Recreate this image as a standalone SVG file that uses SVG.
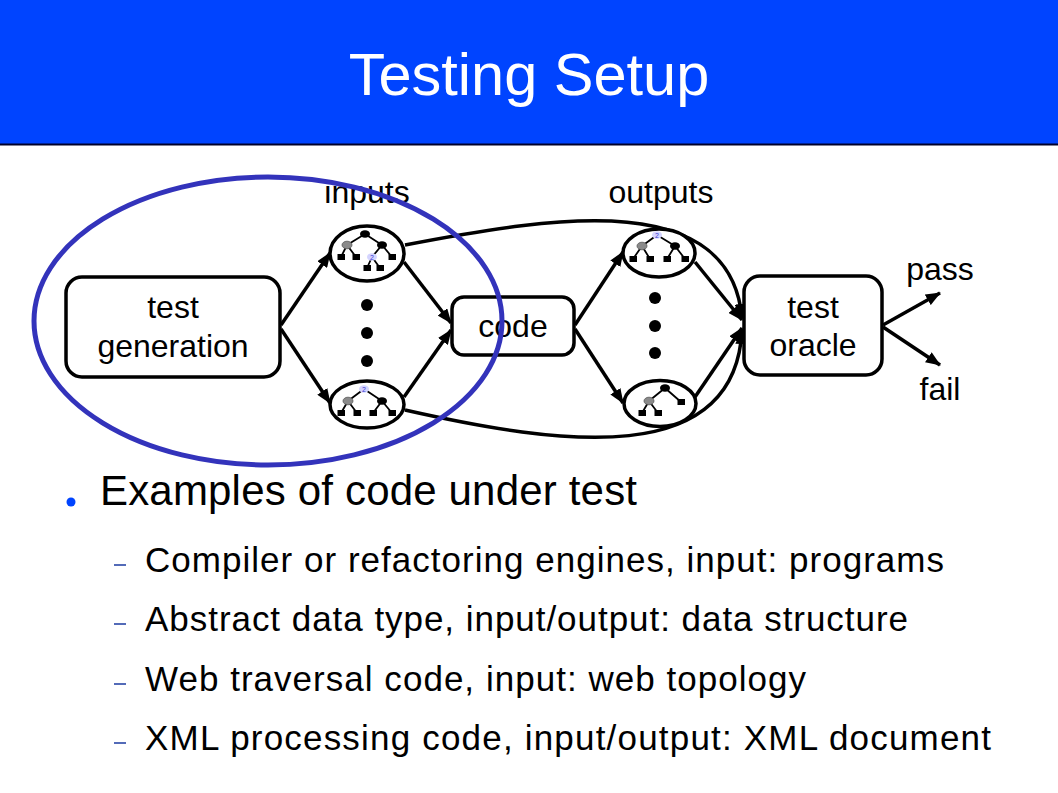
<svg xmlns="http://www.w3.org/2000/svg" width="1058" height="793" viewBox="0 0 1058 793">
<defs>
<style>
text{font-family:"Liberation Sans",Arial,sans-serif;fill:#000}
.lbl{font-size:32px;text-anchor:middle}
.box{fill:#fff;stroke:#000;stroke-width:3.5}
.oval{fill:#fff;stroke:#000;stroke-width:3.5}
.con{fill:none;stroke:#000;stroke-width:3.5;marker-end:url(#ah)}
.te{stroke:#000;stroke-width:1.8;fill:none}
.nb{fill:#000}
.ng{fill:#8a8a8a;stroke:#555;stroke-width:0.8}
.nl{fill:#d4d4ff}
.n2{font-size:7px;text-anchor:middle;fill:#3b3bd0}
.lf{fill:#000}
.dot{fill:#000}
.sub{font-size:35px}
.dash{stroke:#1a3aa0;stroke-width:1.5}
</style>
<marker id="ah" markerUnits="userSpaceOnUse" markerWidth="15" markerHeight="12" refX="14" refY="6" orient="auto">
<path d="M0,0 L15,6 L0,12 z" fill="#000"/>
</marker>
</defs>
<rect width="1058" height="793" fill="#fff"/>
<g id="title">
<rect x="0" y="0" width="1058" height="144" fill="#0044ff"/>
<line x1="0" y1="144.5" x2="1058" y2="144.5" stroke="#00002a" stroke-width="2"/>
<text x="529" y="95" font-size="59.5" text-anchor="middle" style="fill:#fff">Testing Setup</text>
</g>
<g id="connectors">
<line class="con" x1="281" y1="325" x2="330" y2="253"/>
<line class="con" x1="281" y1="329" x2="330" y2="403"/>
<line class="con" x1="404" y1="262" x2="451" y2="323"/>
<line class="con" x1="404" y1="397" x2="451" y2="330"/>
<line class="con" x1="575" y1="325" x2="623" y2="252"/>
<line class="con" x1="575" y1="329" x2="623" y2="403"/>
<line class="con" x1="695" y1="262" x2="742" y2="320"/>
<line class="con" x1="695" y1="397" x2="742" y2="328"/>
<path class="con" d="M405,245 C560,215 730,190 742,318"/>
<path class="con" d="M405,410 C560,445 735,470 742,330"/>
<line class="con" x1="883" y1="325" x2="940" y2="293"/>
<line class="con" x1="883" y1="327" x2="940" y2="365"/>
</g>
<g id="test-generation">
<rect class="box" x="66" y="277" width="214" height="100" rx="16"/>
<text class="lbl" x="173" y="318">test</text>
<text class="lbl" x="173" y="357">generation</text>
</g>
<g id="inputs-label"><text class="lbl" x="367" y="203">inputs</text></g>
<g id="input-1">
<ellipse class="oval" cx="367" cy="253.5" rx="37" ry="27.5"/>
<path class="te" d="M365,234 L347,245 M365,234 L382,245 M347,245 L341,257 M347,245 L356,257 M382,245 L372,257 M382,245 L392,257 M372,257 L367,268 M372,257 L380,268"/>
<ellipse class="nb" cx="365" cy="234" rx="5" ry="3.8"/>
<ellipse class="ng" cx="347" cy="245" rx="5" ry="3.8"/>
<ellipse class="nb" cx="382" cy="245" rx="5" ry="3.8"/>
<ellipse class="nl" cx="372" cy="257" rx="5" ry="3.8"/>
<text class="n2" x="372" y="259.5">2</text>
<rect class="lf" x="337.5" y="254" width="7.5" height="6"/>
<rect class="lf" x="352.5" y="254" width="7.5" height="6"/>
<rect class="lf" x="388.5" y="254" width="7.5" height="6"/>
<rect class="lf" x="363.5" y="265" width="7.5" height="6"/>
<rect class="lf" x="376.5" y="265" width="7.5" height="6"/>
</g>
<g id="input-dots">
<circle class="dot" cx="367" cy="305" r="6"/>
<circle class="dot" cx="367" cy="333" r="6"/>
<circle class="dot" cx="367" cy="361" r="6"/>
</g>
<g id="input-n">
<ellipse class="oval" cx="367" cy="404.5" rx="37" ry="23.5"/>
<path class="te" d="M364,389 L348,401 M364,389 L382,401 M348,401 L341,413 M348,401 L357,413 M382,401 L373,413 M382,401 L392,413"/>
<ellipse class="nl" cx="364" cy="389" rx="5" ry="3.8"/>
<text class="n2" x="364" y="391.5">2</text>
<ellipse class="ng" cx="348" cy="401" rx="5" ry="3.8"/>
<ellipse class="nb" cx="382" cy="401" rx="5" ry="3.8"/>
<rect class="lf" x="337.5" y="410" width="7.5" height="6"/>
<rect class="lf" x="353.5" y="410" width="7.5" height="6"/>
<rect class="lf" x="369.5" y="410" width="7.5" height="6"/>
<rect class="lf" x="388.5" y="410" width="7.5" height="6"/>
</g>
<g id="code">
<rect class="box" x="452" y="297" width="122" height="58" rx="12"/>
<text class="lbl" x="513" y="337">code</text>
</g>
<g id="outputs-label"><text class="lbl" x="661" y="203">outputs</text></g>
<g id="output-1">
<ellipse class="oval" cx="659" cy="253" rx="36" ry="24"/>
<path class="te" d="M657,235 L642,246 M657,235 L675,246 M642,246 L633,259 M642,246 L650,259 M675,246 L667,259 M675,246 L685,259"/>
<ellipse class="nl" cx="657" cy="235" rx="5" ry="3.8"/>
<text class="n2" x="657" y="237.5">2</text>
<ellipse class="ng" cx="642" cy="246" rx="5" ry="3.8"/>
<ellipse class="nb" cx="675" cy="246" rx="5" ry="3.8"/>
<rect class="lf" x="629.5" y="256" width="7.5" height="6"/>
<rect class="lf" x="646.5" y="256" width="7.5" height="6"/>
<rect class="lf" x="663.5" y="256" width="7.5" height="6"/>
<rect class="lf" x="681.5" y="256" width="7.5" height="6"/>
</g>
<g id="output-dots">
<circle class="dot" cx="655" cy="298" r="6"/>
<circle class="dot" cx="655" cy="326" r="6"/>
<circle class="dot" cx="655" cy="353" r="6"/>
</g>
<g id="output-n">
<ellipse class="oval" cx="660" cy="403.5" rx="36" ry="23"/>
<path class="te" d="M665,388 L649,401 M665,388 L681,402 M649,401 L642,413 M649,401 L658,413"/>
<ellipse class="nb" cx="665" cy="388" rx="5" ry="3.8"/>
<ellipse class="ng" cx="649" cy="401" rx="5" ry="3.8"/>
<rect class="lf" x="677.5" y="399" width="7.5" height="6"/>
<rect class="lf" x="638.5" y="410" width="7.5" height="6"/>
<rect class="lf" x="654.5" y="410" width="7.5" height="6"/>
</g>
<g id="test-oracle">
<rect class="box" x="744" y="276" width="138" height="99" rx="16"/>
<text class="lbl" x="813" y="318">test</text>
<text class="lbl" x="813" y="356">oracle</text>
</g>
<g id="pass"><text class="lbl" x="940" y="280">pass</text></g>
<g id="fail"><text class="lbl" x="940" y="400">fail</text></g>
<g id="highlight">
<ellipse cx="268" cy="321" rx="234" ry="144" fill="none" stroke="#3333bb" stroke-width="5"/>
</g>
<g id="bullets">
<circle cx="71" cy="502" r="4.5" fill="#0044ff"/>
<text x="100" y="505" font-size="42" textLength="537" lengthAdjust="spacing">Examples of code under test</text>
<line class="dash" x1="114" y1="565" x2="126" y2="565"/>
<text class="sub" x="145" y="572" textLength="799" lengthAdjust="spacing">Compiler or refactoring engines, input: programs</text>
<line class="dash" x1="114" y1="624" x2="126" y2="624"/>
<text class="sub" x="145" y="631" textLength="763" lengthAdjust="spacing">Abstract data type, input/output: data structure</text>
<line class="dash" x1="114" y1="684" x2="126" y2="684"/>
<text class="sub" x="145" y="691" textLength="661" lengthAdjust="spacing">Web traversal code, input: web topology</text>
<line class="dash" x1="114" y1="743" x2="126" y2="743"/>
<text class="sub" x="145" y="750" textLength="846" lengthAdjust="spacing">XML processing code, input/output: XML document</text>
</g>
</svg>
